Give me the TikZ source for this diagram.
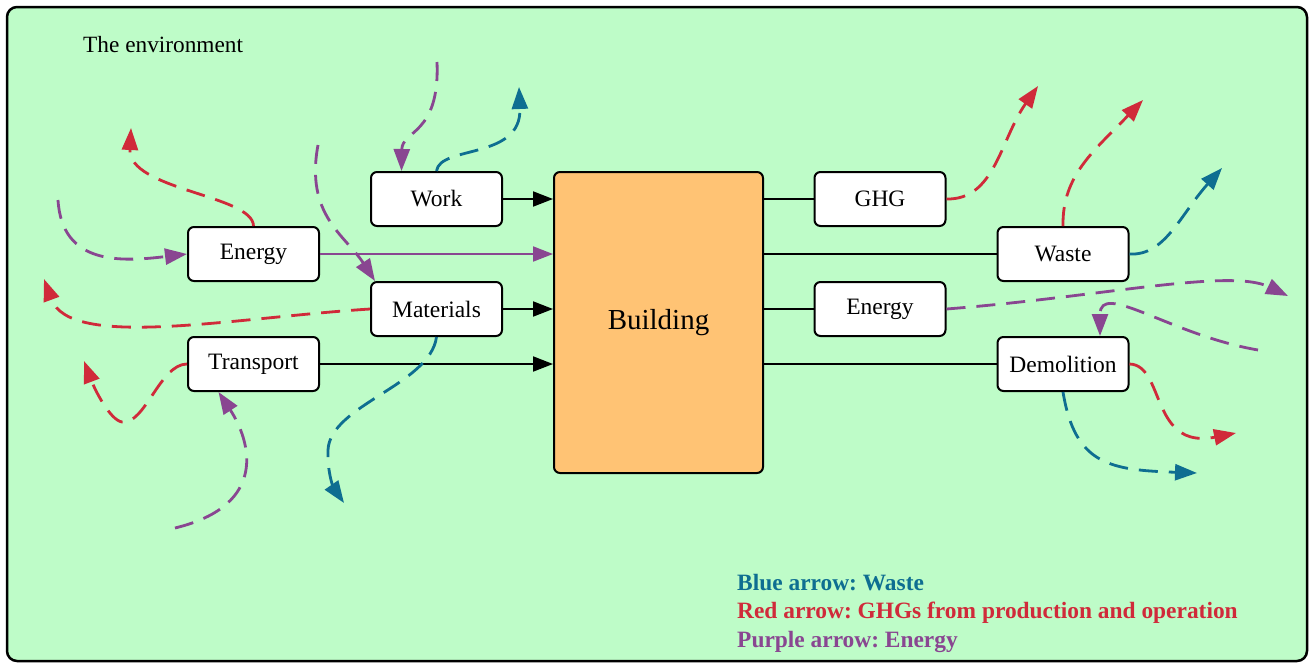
\documentclass[tikz,border=0pt]{standalone}
\usepackage{fontspec}
\setmainfont{Liberation Serif}
\usetikzlibrary{arrows.meta,calc}
\definecolor{envgreen}{RGB}{190,252,200}
\definecolor{bldorange}{RGB}{255,195,116}
\definecolor{ghgred}{RGB}{208,42,58}
\definecolor{wasteblue}{RGB}{14,110,145}
\definecolor{energypurple}{RGB}{137,70,145}
\frenchspacing
\begin{document}
\begin{tikzpicture}[x=1pt,y=-1pt,
  box/.style={draw=black,line width=2pt,rounded corners=6pt,fill=white,
    minimum width=131pt,minimum height=54pt,inner sep=0pt,
    font=\fontsize{23.5}{27}\selectfont},
  flow/.style={line width=2pt,-{Triangle[length=20pt,width=15pt]}},
  link/.style={line width=2pt},
  stream/.style={line width=2.8pt,dash pattern=on 19pt off 11pt,
    -{Triangle[length=22pt,width=16pt]}},
  legend/.style={anchor=west,inner sep=0pt,font=\fontsize{23.4}{27}\selectfont\bfseries},
]
\useasboundingbox (0,0) rectangle (1313,664);

% surrounding environment
\draw[line width=2.5pt,fill=envgreen,rounded corners=10pt] (7,7) rectangle (1307,661);
\node[anchor=west,inner sep=0pt,font=\fontsize{23.3}{27}\selectfont] (envlabel) at (83,45) {The environment};

% the building and its inputs / outputs
\node[draw=black,line width=2pt,rounded corners=6pt,fill=bldorange,
  minimum width=209pt,minimum height=301pt,inner sep=0pt,
  font=\fontsize{29}{33}\selectfont] (bld) at (658.5,322.5) {Building};

\node[box] (work) at (436.5,199) {Work};
\node[box] (enin) at (253.5,254) {Energy};
\node[box] (mat)  at (436.5,309) {Materials};
\node[box] (tr)   at (253.5,364) {Transport};

\node[box] (ghg)   at (880,199) {GHG};
\node[box] (waste) at (1063,254) {Waste};
\node[box] (enout) at (880,309) {Energy};
\node[box] (dem)   at (1063,364) {Demolition};

% inputs into the building
\draw[flow] (work.east) -- (work.east -| bld.west);
\draw[flow,color=energypurple] (enin.east) -- (enin.east -| bld.west);
\draw[flow] (mat.east) -- (mat.east -| bld.west);
\draw[flow] (tr.east) -- (tr.east -| bld.west);

% outputs from the building
\draw[link] (ghg.west -| bld.east) -- (ghg.west);
\draw[link] (waste.west -| bld.east) -- (waste.west);
\draw[link] (enout.west -| bld.east) -- (enout.west);
\draw[link] (dem.west -| bld.east) -- (dem.west);

% free ends of the exchange streams
\coordinate (r1end) at (131,128);
\coordinate (p2s) at (58,200);
\coordinate (r3end) at (44,279);
\coordinate (r4end) at (84,361);
\coordinate (p5s) at (175,528);
\coordinate (b6end) at (344,503);
\coordinate (p7s) at (437,62);
\coordinate (b8end) at (519,87);
\coordinate (p9s) at (318,145);
\coordinate (r10end) at (1038,86);
\coordinate (r11end) at (1143,100);
\coordinate (b12end) at (1222,168);
\coordinate (p13end) at (1288,296);
\coordinate (p14s) at (1258,350);
\coordinate (r15end) at (1236,433);
\coordinate (b16end) at (1197,473);

% streams on the input side
\draw[stream,color=ghgred] (enin.north) .. controls (253,195) and (128,190) .. (r1end);
\draw[stream,color=energypurple] (p2s) .. controls (62,265) and (120,262) .. (enin.west);
\draw[stream,color=ghgred] (mat.west) .. controls (230,318) and (70,350) .. (r3end);
\draw[stream,color=ghgred] (tr.west) .. controls (160,364) and (145,425) .. (122,422)
  .. controls (110,420) and (95,390) .. (r4end);
\draw[stream,color=energypurple] (p5s) .. controls (270,505) and (250,440) .. ([xshift=-35pt]tr.south);
\draw[stream,color=wasteblue] (mat.south) .. controls (430,385) and (330,405) .. (328,450)
  .. controls (327,475) and (335,490) .. (b6end);
\draw[stream,color=energypurple] (p7s) .. controls (440,135) and (402,130) .. ([xshift=-35pt]work.north);
\draw[stream,color=wasteblue] (work.north) .. controls (440,145) and (522,160) .. (b8end);
\draw[stream,color=energypurple] (p9s) .. controls (305,215) and (345,235) .. ([xshift=5pt]mat.north west);

% streams on the output side
\draw[stream,color=ghgred] (ghg.east) .. controls (995,200) and (1000,140) .. (r10end);
\draw[stream,color=ghgred] (waste.north) .. controls (1062,175) and (1095,150) .. (r11end);
\draw[stream,color=wasteblue] (waste.east) .. controls (1165,256) and (1180,215) .. (b12end);
\draw[stream,color=energypurple] (enout.east) .. controls (1100,297) and (1230,268) .. (p13end);
\draw[stream,color=energypurple] (p14s) .. controls (1170,335) and (1100,280) .. ([xshift=37pt]dem.north);
\draw[stream,color=ghgred] (dem.east) .. controls (1165,365) and (1150,450) .. (r15end);
\draw[stream,color=wasteblue] (dem.south) .. controls (1075,465) and (1110,470) .. (b16end);

% legend
\node[legend,text=wasteblue] (legb) at (737,583) {Blue arrow: Waste};
\node[legend,text=ghgred] (legr) at (737,613) {Red arrow: GHGs from production and operation};
\node[legend,text=energypurple] (legp) at (737,642) {Purple arrow: Energy};
\end{tikzpicture}
\end{document}
